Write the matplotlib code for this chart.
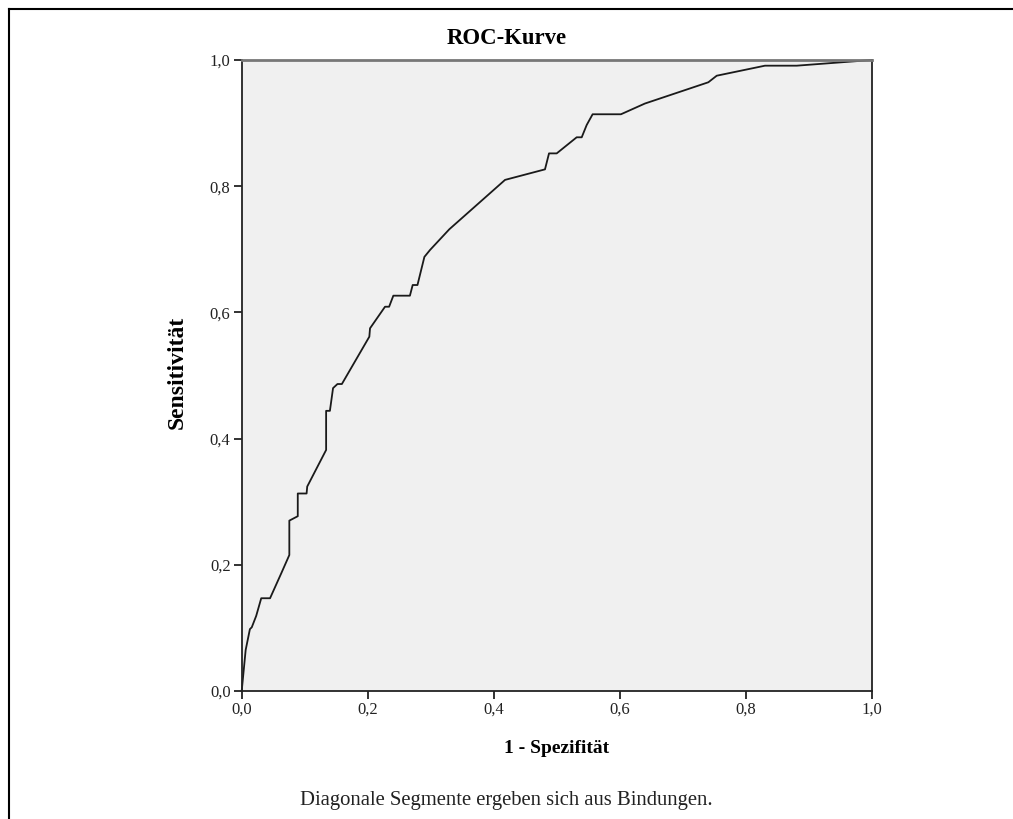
import matplotlib
matplotlib.use("Agg")
import matplotlib.pyplot as plt
from matplotlib.lines import Line2D

# ROC curve points
fpr = [0.0, 0.0063, 0.013, 0.016, 0.023, 0.031, 0.045, 0.063, 0.0756, 0.0756,
       0.089, 0.089, 0.103, 0.104, 0.134, 0.134, 0.140, 0.145, 0.152, 0.159,
       0.2026, 0.2037, 0.2275, 0.234, 0.2407, 0.267, 0.2714, 0.279, 0.29,
       0.299, 0.3295, 0.418, 0.4814, 0.4878, 0.5, 0.5317, 0.5397, 0.5476,
       0.557, 0.602, 0.640, 0.7407, 0.754, 0.8306, 0.881, 1.0]
tpr = [0.0, 0.065, 0.098, 0.101, 0.119, 0.147, 0.147, 0.187, 0.2155, 0.27,
       0.277, 0.313, 0.313, 0.324, 0.382, 0.444, 0.444, 0.480, 0.4865, 0.4865,
       0.5615, 0.5748, 0.609, 0.609, 0.6265, 0.6265, 0.6434, 0.6434, 0.688,
       0.699, 0.7317, 0.81, 0.8267, 0.852, 0.852, 0.8775, 0.8775, 0.897,
       0.914, 0.914, 0.931, 0.9647, 0.9751, 0.991, 0.991, 1.0]

ticks = [0.0, 0.2, 0.4, 0.6, 0.8, 1.0]
tick_labels = ["0,0", "0,2", "0,4", "0,6", "0,8", "1,0"]

title = "ROC-Kurve"
xlabel = "1 - Spezifität"
ylabel = "Sensitivität"
footnote = "Diagonale Segmente ergeben sich aus Bindungen."

plt.rcParams['font.family'] = ['Liberation Serif', 'DejaVu Serif']

W, H = 1013, 819
fig = plt.figure(figsize=(W / 100, H / 100), dpi=100)
fig.patch.set_facecolor("white")

ax = fig.add_axes([241.7 / W, (H - 691) / H, 630 / W, 631 / H])
ax.set_facecolor("#f0f0f0")
ax.plot(fpr, tpr, color="#1a1a1a", lw=1.3, solid_joinstyle="round", clip_on=False)
ax.set_xlim(0, 1)
ax.set_ylim(0, 1)
ax.set_xticks(ticks)
ax.set_xticklabels(tick_labels)
ax.set_yticks(ticks)
ax.set_yticklabels(tick_labels)
ax.tick_params(direction="out", length=6, width=1.3, color="#222222",
               labelsize=12, pad=2, labelcolor="#222222")
for side in ["left", "bottom", "right"]:
    ax.spines[side].set_color("#222222")
    ax.spines[side].set_linewidth(1.3)
ax.spines["top"].set_color("#777777")
ax.spines["top"].set_linewidth(2.0)

ax.set_xlabel(xlabel, fontsize=14, fontweight="bold", labelpad=16)
ax.set_ylabel(ylabel, fontsize=17, fontweight="bold")
ax.yaxis.set_label_coords(-0.0852, 0.505)

fig.text(506.5 / W, 1 - 39 / H, title, ha="center", va="center",
         fontsize=16.4, fontweight="bold")
fig.text(506.5 / W, 1 - 800 / H, footnote, ha="center", va="center",
         fontsize=14.9, color="#222222")

# outer frame (top and left edges visible)
fig.add_artist(Line2D([8.5 / W, 8.5 / W], [0, 1 - 9 / H], transform=fig.transFigure,
                      color="black", lw=1.5))
fig.add_artist(Line2D([8.5 / W, 1], [1 - 9 / H, 1 - 9 / H], transform=fig.transFigure,
                      color="black", lw=1.5))

fig.savefig("out.png", dpi=100)
